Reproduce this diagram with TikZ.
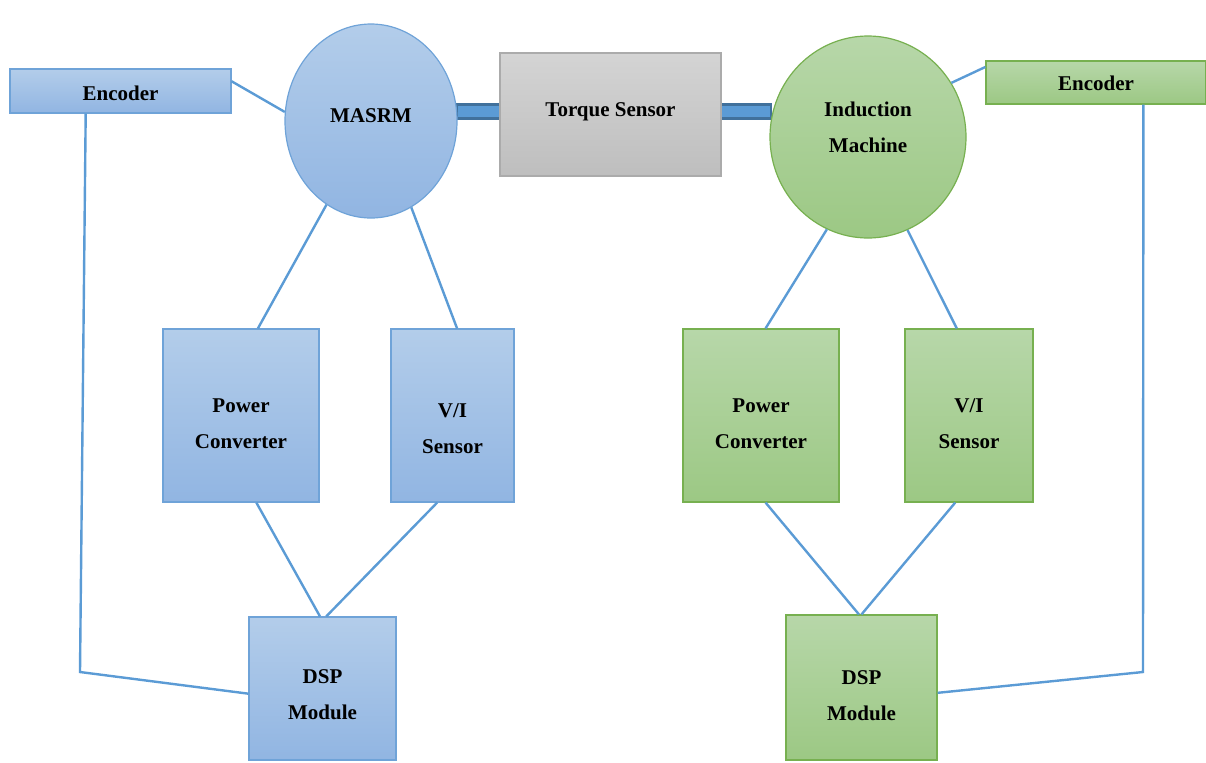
\documentclass[tikz,border=0pt]{standalone}
\usepackage{fontspec}
\setmainfont{Liberation Serif}
\usetikzlibrary{shapes.geometric}
\definecolor{bluetop}{HTML}{B3CDEA}
\definecolor{bluebot}{HTML}{91B5E2}
\definecolor{blueline}{HTML}{6FA3D8}
\definecolor{greentop}{HTML}{B7D7A9}
\definecolor{greenbot}{HTML}{9CC884}
\definecolor{greenline}{HTML}{77B050}
\definecolor{greytop}{HTML}{D4D4D4}
\definecolor{greybot}{HTML}{BEBEBE}
\definecolor{greyline}{HTML}{ABABAB}
\definecolor{wire}{HTML}{5B9BD5}
\definecolor{shaftline}{HTML}{41719C}
\tikzset{%
	blk/.style={draw, rectangle, inner sep=0mm, line width=0.6pt},
	mach/.style={blk, ellipse},
	txt/.style={inner sep=0mm, align=center, font=\bfseries\fontsize{10.5}{18}\selectfont},
	bl/.style={draw=blueline, top color=bluetop, bottom color=bluebot},
	gr/.style={draw=greenline, top color=greentop, bottom color=greenbot},
	gy/.style={draw=greyline, top color=greytop, bottom color=greybot},
	shaft/.style={draw=shaftline, fill=wire, line width=1.2pt, inner sep=0mm,%
		minimum height=7pt},
	link/.style={draw=wire, line width=1.2pt}
}

\begin{document}
\begin{tikzpicture}[x=0.5pt, y=-0.5pt]
	\useasboundingbox (0,0) rectangle (1206,762);

	% couplings on the common shaft
	\node[shaft, minimum width=21.5pt] (shL) at (478.5,111.5) {};
	\node[shaft, minimum width=25pt]   (shR) at (746,111.5) {};

	% test bench
	\node[mach, bl, minimum width=86pt, minimum height=97pt,
		label={[txt, yshift=2.5pt]center:MASRM}] (masrm) at (371,121) {};
	\node[blk, gy, minimum width=110.5pt, minimum height=61.5pt,
		label={[txt, yshift=1.5pt]center:Torque Sensor}] (torque) at (610.5,114.5) {};
	\node[mach, gr, minimum width=98pt, minimum height=101pt,
		label={[txt, yshift=5pt]center:{Induction\\Machine}}] (im) at (868,137) {};

	% MASRM side
	\node[blk, bl, minimum width=110.5pt, minimum height=22pt,
		label={[txt, yshift=-1pt]center:Encoder}] (encL) at (120.5,91) {};
	\node[blk, bl, minimum width=78pt, minimum height=86.5pt,
		label={[txt, yshift=-4pt]center:{Power\\Converter}}] (pcL) at (241,415.5) {};
	\node[blk, bl, minimum width=61.5pt, minimum height=86.5pt,
		label={[txt, yshift=-6.5pt]center:{V/I\\Sensor}}] (viL) at (452.5,415.5) {};
	\node[blk, bl, minimum width=73.5pt, minimum height=71.5pt,
		label={[txt, yshift=-3pt]center:{DSP\\Module}}] (dspL) at (322.5,688.5) {};
	\coordinate (bendL) at (80,672);

	% induction machine side
	\node[blk, gr, minimum width=110pt, minimum height=21.5pt,
		label={[txt, yshift=-0.5pt]center:Encoder}] (encR) at (1096,82.5) {};
	\node[blk, gr, minimum width=78pt, minimum height=86.5pt,
		label={[txt, yshift=-4pt]center:{Power\\Converter}}] (pcR) at (761,415.5) {};
	\node[blk, gr, minimum width=64pt, minimum height=86.5pt,
		label={[txt, yshift=-4pt]center:{V/I\\Sensor}}] (viR) at (969,415.5) {};
	\node[blk, gr, minimum width=75.5pt, minimum height=72.5pt,
		label={[txt, yshift=-4pt]center:{DSP\\Module}}] (dspR) at (861.5,687.5) {};
	\coordinate (bendR) at (1143,672);

	% wiring
	\draw[link] (encL.5) -- (masrm.174);
	\draw[link] (masrm.242) -- (pcL.79);
	\draw[link] (masrm.295) -- (viL.87);
	\draw[link] (pcL.280) -- (dspL.92);
	\draw[link] (viL.260) -- (dspL.87);
	\draw[link] (encL.213) -- (bendL) -- (dspL.184);

	\draw[link] (encR.172) -- (im.33);
	\draw[link] (im.246) -- (pcR.87);
	\draw[link] (im.293) -- (viR.98);
	\draw[link] (pcR.273) -- (dspR.92);
	\draw[link] (viR.261) -- (dspR.90);
	\draw[link] (encR.335) -- (bendR) -- (dspR.356);
\end{tikzpicture}
\end{document}
